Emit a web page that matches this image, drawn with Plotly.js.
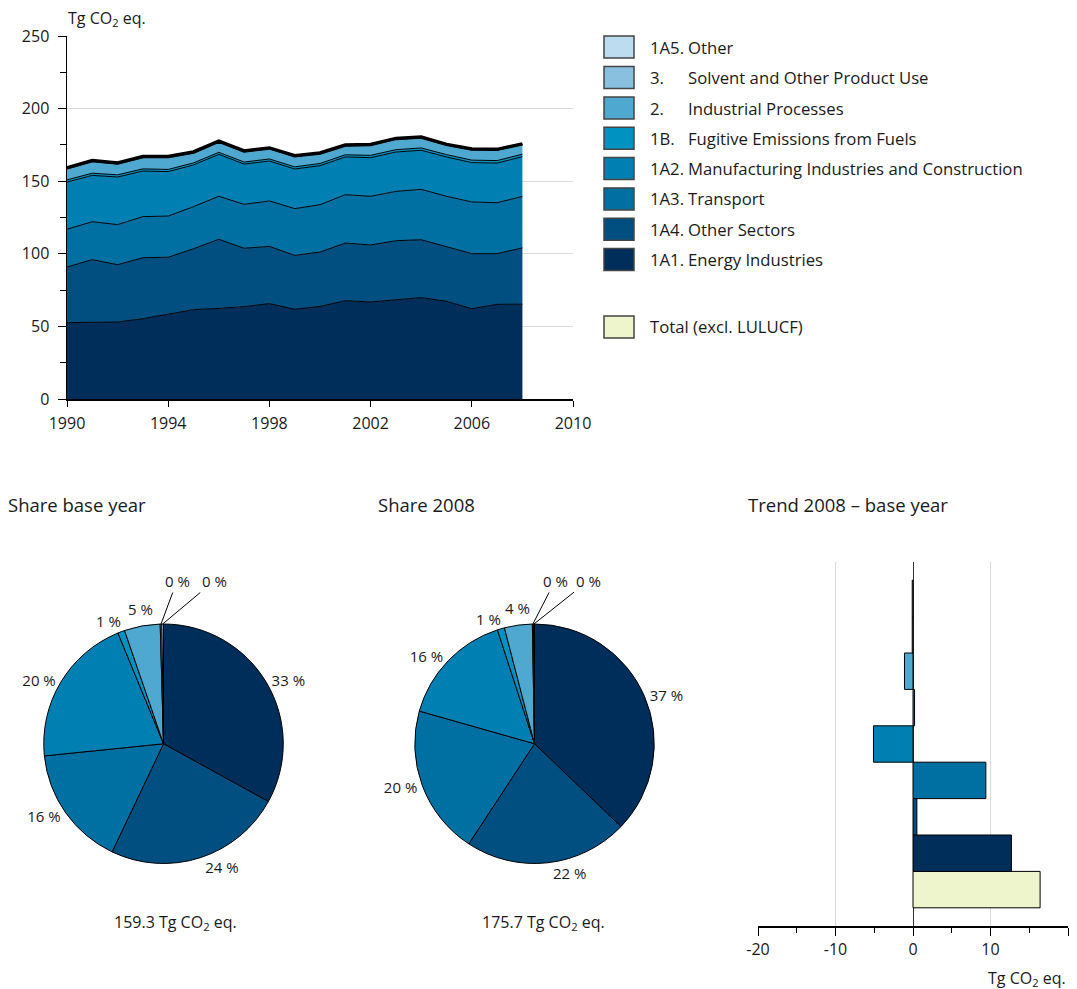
<!DOCTYPE html>
<html><head><meta charset="utf-8">
<script src="https://cdn.plot.ly/plotly-3.0.1.min.js"></script>
<style>body{margin:0;background:#fff}#chart{width:1077px;height:989px}</style>
</head><body><div id="chart"></div>
<script>
// ---- data ----
const years = [1990,1991,1992,1993,1994,1995,1996,1997,1998,1999,2000,2001,2002,2003,2004,2005,2006,2007,2008];
const energy1A1 = [52.6,53.0,53.0,55.3,58.3,61.5,62.4,63.6,65.7,61.8,63.8,67.7,66.8,68.4,69.8,67.3,62.2,65.2,65.3];
const other1A4 = [38.3,43.0,39.5,42.0,39.3,42.0,47.6,40.2,39.4,37.1,37.4,39.7,39.3,40.6,39.9,37.6,37.9,34.9,38.8];
const transport1A3 = [26.0,26.1,27.6,28.3,28.4,29.0,29.6,30.3,31.3,32.2,32.6,33.3,33.5,34.0,34.7,34.7,35.6,35.1,35.4];
const manuf1A2 = [32.5,31.9,32.8,31.4,30.6,28.7,28.9,27.7,27.5,27.3,26.9,26.0,26.6,27.1,26.9,27.1,27.1,27.3,27.4];
const fugitive1B = [1.5,1.5,1.5,1.5,1.5,1.4,1.4,1.4,1.4,1.5,1.5,1.5,1.6,1.6,1.6,1.6,1.7,1.7,1.7];
const industrial2 = [7.7,8.0,7.5,7.8,8.2,6.9,7.0,7.0,7.0,7.1,6.6,6.1,6.9,7.2,6.9,6.5,7.2,7.2,6.6];
const solvent3 = [0.35,0.35,0.34,0.34,0.33,0.33,0.32,0.32,0.31,0.31,0.30,0.30,0.29,0.29,0.28,0.28,0.27,0.26,0.25];
const other1A5 = [0.35,0.34,0.34,0.33,0.33,0.32,0.32,0.31,0.31,0.30,0.30,0.29,0.29,0.28,0.28,0.27,0.27,0.26,0.25];

// stacking order bottom -> top
const series = [energy1A1, other1A4, transport1A3, manuf1A2, fugitive1B, industrial2, solvent3, other1A5];
const codes = ['1A1.', '1A4.', '1A3.', '1A2.', '1B.', '2.', '3.', '1A5.'];
const names = ['Energy Industries', 'Other Sectors', 'Transport', 'Manufacturing Industries and Construction',
               'Fugitive Emissions from Fuels', 'Industrial Processes', 'Solvent and Other Product Use', 'Other'];
const colors = ['#002e5a', '#004f80', '#006fa1', '#0080b2', '#0092c0', '#4fa8d0', '#89c0e0', '#bcdcef'];
const totalLabel = 'Total (excl. LULUCF)';
const totalColor = '#eef4cc';
const xTicks = [1990,1994,1998,2002,2006,2010];
const barTicks = [-20,-10,0,10,20];
const barTickText = ['-20','-10','0','10','20'];
const unit = 'Tg CO<sub>2</sub> eq.';

// ---- helpers ----
const W = 1077, H = 989;
const px = x => x / W, py = y => 1 - y / H;
const FONT = 'Open Sans, sans-serif';
const TXT = '#1a1a1a';

const traces = [];
// stacked area
series.forEach((s, i) => {
  traces.push({
    type: 'scatter', mode: 'lines', x: years, y: s, stackgroup: 'one',
    fillcolor: colors[i], line: {color: '#000', width: i === series.length - 1 ? 3.5 : 1},
    xaxis: 'x', yaxis: 'y', showlegend: false, hoverinfo: 'skip', name: names[i]
  });
});

// pies
const first = series.map(s => s[0]);
const last = series.map(s => s[s.length - 1]);
const sum = a => a.reduce((p, c) => p + c, 0);
const tot0 = sum(first), tot1 = sum(last);
const pieTop = 624, pieBot = 863.5, pieR = (pieBot - pieTop) / 2, pieCy = (pieTop + pieBot) / 2;
const pctText = (vals, tot) => vals.map(v => Math.round(v / tot * 100) + ' %');
const placedIdx = [4, 5];  // small slices, label placed by hand
const leaderIdx = [6, 7];  // tiny slices, label with leader line
function pie(vals, tot, cx) {
  return {
    type: 'pie', values: vals, labels: names, sort: false, direction: 'clockwise', rotation: 0,
    marker: {colors: colors, line: {color: '#000', width: 1}},
    text: pctText(vals, tot), textinfo: 'text',
    textposition: vals.map((v, i) => (leaderIdx.includes(i) || placedIdx.includes(i)) ? 'none' : 'outside'),
    textfont: {family: FONT, size: 15, color: TXT},
    domain: {x: [px(cx - pieR), px(cx + pieR)], y: [py(pieBot), py(pieTop)]},
    showlegend: false, hoverinfo: 'skip'
  };
}
const cx0 = 163.5, cx1 = 534.5;
traces.push(pie(first, tot0, cx0));
traces.push(pie(last, tot1, cx1));

// trend bars
const barCats = [totalLabel].concat(names);
const diffs = [tot1 - tot0].concat(series.map(s => s[s.length - 1] - s[0]));
traces.push({
  type: 'bar', orientation: 'h', x: diffs, y: barCats,
  marker: {color: [totalColor].concat(colors), line: {color: '#000', width: 1}},
  xaxis: 'x2', yaxis: 'y2', showlegend: false, hoverinfo: 'skip'
});

// ---- legend (manual) ----
const shapes = [], annotations = [];
const LF = 16.7;
const legendRows = [];
for (let i = series.length - 1; i >= 0; i--) legendRows.push({code: codes[i], name: names[i], color: colors[i]});
const rowY = [47, 77.5, 108, 138.3, 168.6, 198.9, 229.2, 259.5];
legendRows.forEach((r, k) => {
  const cy = rowY[k];
  shapes.push({type: 'rect', xref: 'paper', yref: 'paper', x0: px(604), x1: px(634), y0: py(cy + 11), y1: py(cy - 11),
    fillcolor: r.color, line: {color: '#444', width: 1.5}});
  annotations.push({xref: 'paper', yref: 'paper', x: px(648), y: py(cy), xanchor: 'left', yanchor: 'middle',
    text: r.code, showarrow: false, font: {family: FONT, size: LF, color: TXT}});
  annotations.push({xref: 'paper', yref: 'paper', x: px(686), y: py(cy), xanchor: 'left', yanchor: 'middle',
    text: r.name, showarrow: false, font: {family: FONT, size: LF, color: TXT}});
});
shapes.push({type: 'rect', xref: 'paper', yref: 'paper', x0: px(604), x1: px(634), y0: py(338), y1: py(316),
  fillcolor: totalColor, line: {color: '#444', width: 1.5}});
annotations.push({xref: 'paper', yref: 'paper', x: px(648), y: py(327), xanchor: 'left', yanchor: 'middle',
  text: totalLabel, showarrow: false, font: {family: FONT, size: LF, color: TXT}});

// labels for the small pie slices
function smallLabels(vals, tot, cx, placedPos, leaderPos) {
  const txt = pctText(vals, tot);
  placedIdx.forEach((i, k) => {
    annotations.push({xref: 'paper', yref: 'paper', x: px(placedPos[k][0]), y: py(placedPos[k][1]),
      xanchor: 'center', yanchor: 'middle', text: txt[i], showarrow: false,
      font: {family: FONT, size: 15, color: TXT}});
  });
  leaderIdx.forEach((i, k) => {
    const cum = sum(vals.slice(0, i)) + vals[i] / 2;
    const th = cum / tot * 2 * Math.PI;
    const tx = cx + pieR * Math.sin(th), ty = pieCy - pieR * Math.cos(th);
    annotations.push({xref: 'paper', yref: 'paper', x: px(tx), y: py(ty), text: txt[i], showarrow: true,
      arrowhead: 0, arrowwidth: 1, arrowcolor: '#000', standoff: 0, startstandoff: 0,
      ax: leaderPos[k][0] - tx, ay: leaderPos[k][1] - ty, font: {family: FONT, size: 15, color: TXT}});
  });
}
smallLabels(first, tot0, cx0, [[108, 621], [140, 609]], [[177, 581], [214, 581]]);
smallLabels(last, tot1, cx1, [[488, 619], [517, 608]], [[555, 581], [588, 581]]);

// titles & captions
const ann = (x, y, text, xa, size) => annotations.push({xref: 'paper', yref: 'paper', x: px(x), y: py(y),
  xanchor: xa, yanchor: 'middle', text: text, showarrow: false, font: {family: FONT, size: size, color: TXT}});
ann(66, 18, unit, 'left', 16);
ann(6, 504, 'Share base year', 'left', 18.5);
ann(376, 504, 'Share 2008', 'left', 18.5);
ann(746, 504, 'Trend 2008 – base year', 'left', 18.5);
ann(175, 922, tot0.toFixed(1) + ' ' + unit, 'center', 16);
ann(543, 922, tot1.toFixed(1) + ' ' + unit, 'center', 16);
ann(1068, 978, unit, 'right', 16);

const TF = {family: FONT, size: 16, color: TXT};
const layout = {
  width: W, height: H, margin: {l: 0, r: 0, t: 0, b: 0},
  paper_bgcolor: '#fff', plot_bgcolor: '#fff',
  font: {family: FONT, size: 15, color: TXT},
  xaxis: {domain: [px(67), px(573)], range: [1990, 2010], tickvals: xTicks, ticks: 'outside', ticklen: 6,
    tickcolor: '#000', showline: true, linecolor: '#000', linewidth: 1.5, showgrid: false, zeroline: false,
    tickfont: TF, ticklabelstandoff: 3, anchor: 'y', fixedrange: true},
  yaxis: {domain: [py(399), py(36)], range: [0, 250], dtick: 50, ticks: 'outside', ticklen: 8, tickcolor: '#000',
    showline: true, linecolor: '#000', linewidth: 1.5, showgrid: true, gridcolor: '#dadada', gridwidth: 1,
    zeroline: false, tickfont: TF, ticklabelstandoff: 5, anchor: 'x',
    minor: {dtick: 25, ticks: 'outside', ticklen: 6, tickcolor: '#000', showgrid: false}},
  xaxis2: {domain: [px(758), px(1068)], range: [-20, 20], tickvals: barTicks, ticktext: barTickText,
    ticks: 'outside', ticklen: 8, tickcolor: '#000', showline: true, linecolor: '#000', linewidth: 1.5,
    showgrid: true, gridcolor: '#dadada', gridwidth: 1, zeroline: true, zerolinecolor: '#333', zerolinewidth: 1,
    tickfont: TF, anchor: 'y2',
    minor: {tickvals: [-15, -5, 5, 15], ticks: 'outside', ticklen: 5, tickcolor: '#000', showgrid: false}},
  yaxis2: {domain: [py(926), py(562)], type: 'category', categoryarray: barCats, range: [-1, 9],
    showticklabels: false, showgrid: false, showline: false, zeroline: false, ticks: '', anchor: 'x2'},
  bargap: 0,
  shapes: shapes, annotations: annotations
};

Plotly.newPlot('chart', traces, layout, {displayModeBar: false, staticPlot: true});
</script>
</body></html>
